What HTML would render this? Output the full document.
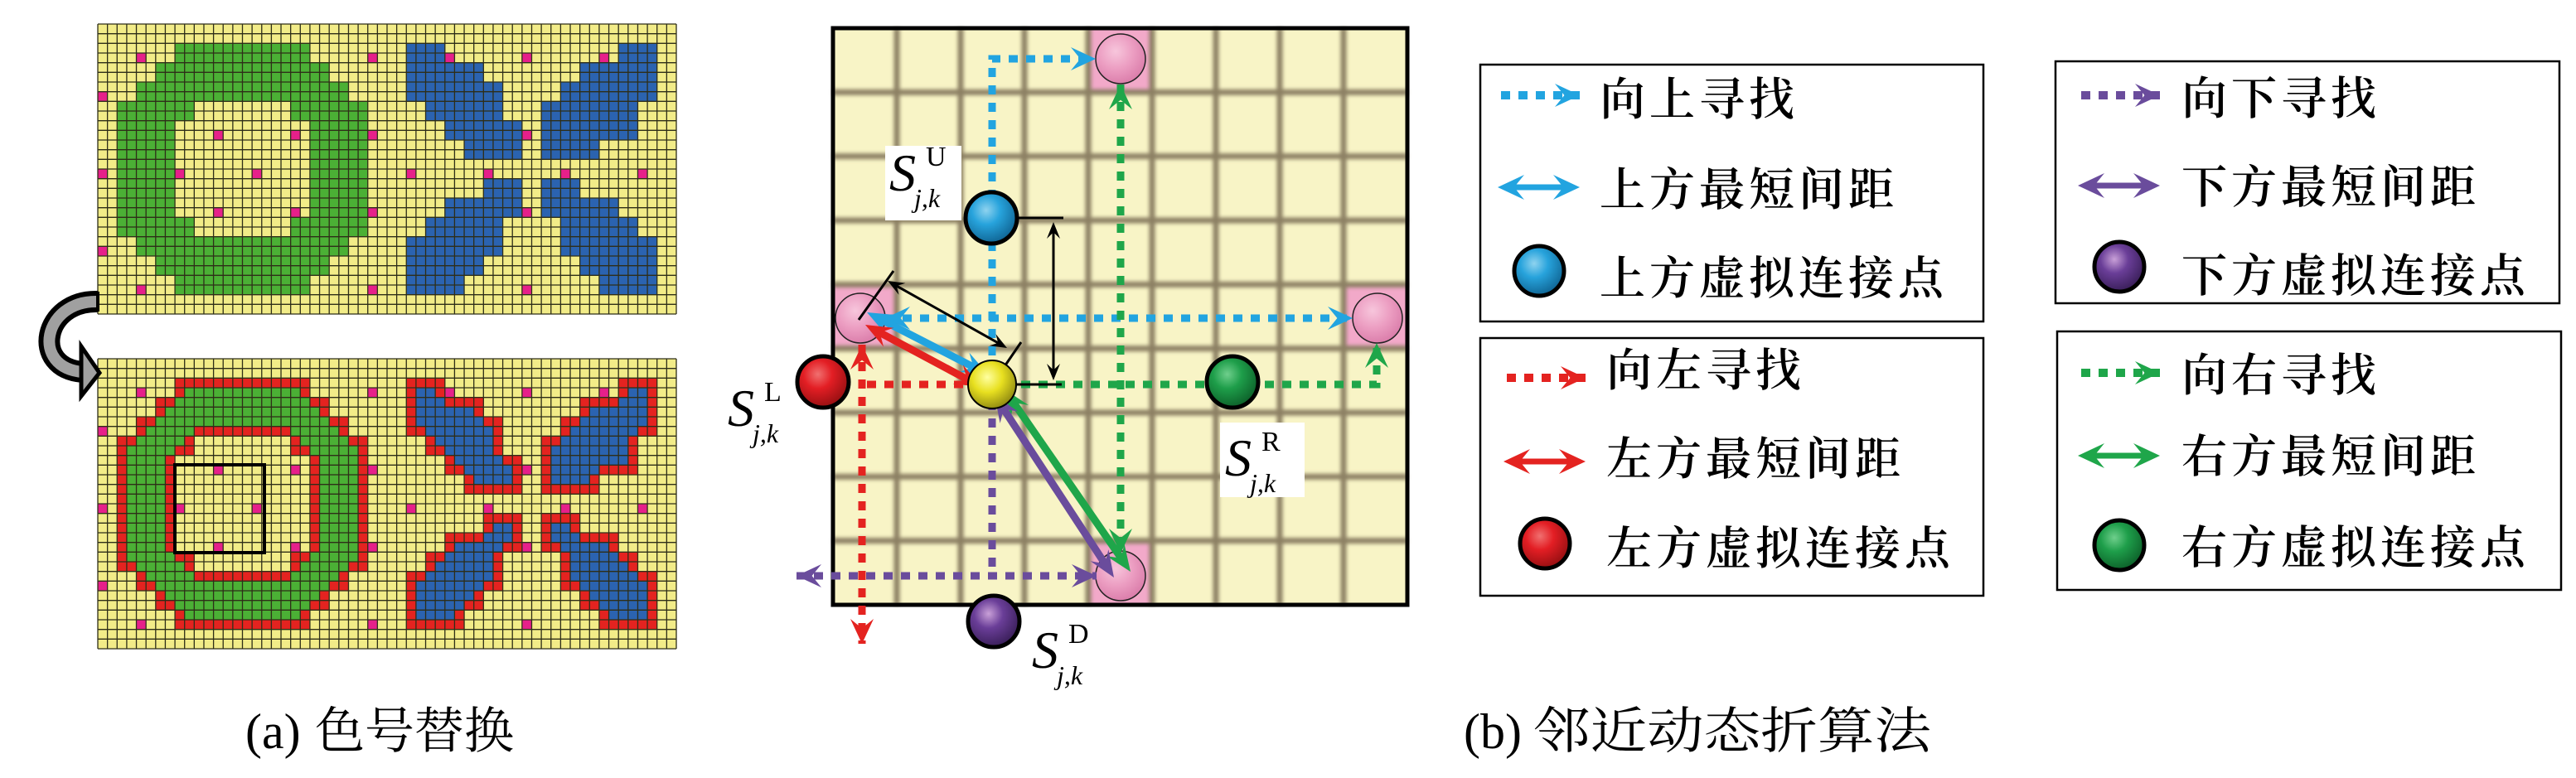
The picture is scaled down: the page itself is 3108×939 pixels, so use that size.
<!DOCTYPE html>
<html><head><meta charset="utf-8">
<style>
html,body{margin:0;padding:0;background:#fff;}
svg{display:block;}
.cj{font-family:"Liberation Serif","Noto Serif CJK SC",serif;font-size:55px;letter-spacing:5px;fill:#000;font-weight:600;}
.cap{font-family:"Liberation Serif","Noto Serif CJK SC",serif;font-size:60px;fill:#000;}
.si{font-family:"Liberation Serif",serif;font-style:italic;font-size:64px;}
.sup{font-family:"Liberation Serif",serif;font-size:34px;}
.sub{font-family:"Liberation Serif",serif;font-style:italic;font-size:32px;}
</style></head>
<body>
<svg id="s" width="3108" height="939" viewBox="0 0 3108 939" xmlns="http://www.w3.org/2000/svg">
<defs>
<radialGradient id="gb" cx="0.4" cy="0.35" r="0.7"><stop offset="0" stop-color="#8fd3ef"/><stop offset="0.4" stop-color="#27a3dc"/><stop offset="1" stop-color="#0d5e8c"/></radialGradient>
<radialGradient id="gr" cx="0.4" cy="0.35" r="0.7"><stop offset="0" stop-color="#f07070"/><stop offset="0.4" stop-color="#e31e24"/><stop offset="1" stop-color="#8e0e10"/></radialGradient>
<radialGradient id="gg" cx="0.4" cy="0.35" r="0.7"><stop offset="0" stop-color="#6fcf8c"/><stop offset="0.4" stop-color="#1e9e4a"/><stop offset="1" stop-color="#0b5a26"/></radialGradient>
<radialGradient id="gp" cx="0.4" cy="0.35" r="0.7"><stop offset="0" stop-color="#c9a0d8"/><stop offset="0.4" stop-color="#6a3e98"/><stop offset="1" stop-color="#341b52"/></radialGradient>
<radialGradient id="gy" cx="0.4" cy="0.35" r="0.7"><stop offset="0" stop-color="#ffffa0"/><stop offset="0.45" stop-color="#e8e020"/><stop offset="1" stop-color="#8a8410"/></radialGradient>
<radialGradient id="gk" cx="0.4" cy="0.35" r="0.7"><stop offset="0" stop-color="#f7c6dc"/><stop offset="0.5" stop-color="#ec9ec2"/><stop offset="1" stop-color="#d97aa8"/></radialGradient>
<filter id="bl" x="-5%" y="-5%" width="110%" height="110%"><feGaussianBlur stdDeviation="2.5"/></filter>
</defs>
<g id="A"></g>
<g id="B"></g>
<g id="L"></g>
<path d="M118,364 C52,362 36,444 100,449" fill="none" stroke="#000" stroke-width="26"/>
<path d="M118,364 C52,362 36,444 100,449" fill="none" stroke="#a0a0a0" stroke-width="14"/>
<polygon points="98,418 120,450 98,478" fill="#a0a0a0" stroke="#000" stroke-width="5" stroke-linejoin="miter"/>
<rect x="116" y="352" width="4" height="24" fill="#000"/>
<text class="cap" x="296" y="903">(a)</text>
<text class="cap" x="380" y="903" textLength="240" lengthAdjust="spacingAndGlyphs">色号替换</text>
<text class="cap" x="1766" y="903">(b)</text>
<text class="cap" x="1850" y="903" textLength="480" lengthAdjust="spacingAndGlyphs">邻近动态折算法</text>
<text class="cj" x="1930" y="139">向上寻找</text>
<text class="cj" x="1930" y="248">上方最短间距</text>
<text class="cj" x="1930" y="355">上方虚拟连接点</text>
<text class="cj" x="1938" y="466">向左寻找</text>
<text class="cj" x="1938" y="573">左方最短间距</text>
<text class="cj" x="1938" y="681">左方虚拟连接点</text>
<text class="cj" x="2632" y="138">向下寻找</text>
<text class="cj" x="2632" y="245">下方最短间距</text>
<text class="cj" x="2632" y="352">下方虚拟连接点</text>
<text class="cj" x="2632" y="472">向右寻找</text>
<text class="cj" x="2632" y="570">右方最短间距</text>
<text class="cj" x="2632" y="680">右方虚拟连接点</text>
</svg>
<script>
var NS="http://www.w3.org/2000/svg";
function el(p,t,a){var e=document.createElementNS(NS,t);for(var k in a)e.setAttribute(k,a[k]);p.appendChild(e);return e;}
var A=document.getElementById('A'),B=document.getElementById('B'),Lg=document.getElementById('L');
var green={2:[[8,21]],4:[[6,23]],6:[[4,25]],8:[[2,9],[20,27]],10:[[2,7],[22,27]],12:[[2,7],[22,27]],14:[[2,7],[22,27]],16:[[2,7],[22,27]],18:[[2,7],[22,27]],20:[[2,9],[20,27]],22:[[4,25]],24:[[6,23]],26:[[8,21]]};
var blue={2:[[32,35],[54,57]],4:[[32,39],[50,57]],6:[[32,41],[48,57]],8:[[34,41],[46,55]],10:[[36,43],[46,55]],12:[[38,43],[46,51]],16:[[40,43],[46,49]],18:[[36,43],[46,53]],20:[[34,41],[48,55]],22:[[32,41],[48,57]],24:[[32,39],[50,57]],26:[[32,37],[52,57]]};
var M=[];for(var r=0;r<30;r++){M.push([]);for(var c=0;c<60;c++)M[r].push(0);}
function fill(o,v){for(var k in o){var r0=+k;for(var rr=r0;rr<r0+2;rr++)o[k].forEach(function(g){for(var c=g[0];c<=g[1];c++)M[rr][c]=v;});}}
fill(green,1);fill(blue,2);
function drawGrid(y0,outline){
 var x0=118,cw=698/60,ch=350/30;
 var g=el(A,'g',{});
 el(g,'rect',{x:x0,y:y0,width:698,height:350,fill:'#f2ec88'});
 for(var r=0;r<30;r++)for(var c=0;c<60;c++){
  var v=M[r][c],col=null;
  if(v){col=v==1?'#4bb035':'#2b63b0';
   if(outline){var b=false;[[0,1],[0,-1],[1,0],[-1,0]].forEach(function(d){var rr=r+d[0],cc=c+d[1];if(rr<0||rr>=30||cc<0||cc>=60||M[rr][cc]!=v)b=true;});if(b)col='#e42320';}
  }else{
   if((r%8==3&&c%8==4)||(r%8==7&&c%8==0))col='#e6208a';
  }
  if(col)el(g,'rect',{x:(x0+c*cw).toFixed(2),y:(y0+r*ch).toFixed(2),width:cw+0.3,height:ch+0.3,fill:col});
 }
 var d='';
 for(var c=0;c<=60;c++){var x=(x0+c*cw).toFixed(2);d+='M'+x+','+y0+'V'+(y0+350);}
 for(var r=0;r<=30;r++){var y=(y0+r*ch).toFixed(2);d+='M'+x0+','+y+'H'+(x0+698);}
 el(g,'path',{d:d,stroke:'#2e2e18',"stroke-width":1.3,fill:'none'});
}
drawGrid(29,false);
drawGrid(433,true);
el(A,'rect',{x:211,y:561,width:108,height:106,fill:'none',stroke:'#000','stroke-width':4});
function head(p,x,y,ang,color,L,W){
 L=L||30;W=W||28;var c=Math.cos(ang),s=Math.sin(ang);
 var pts=[[0,0],[-L,-W/2],[-L*0.62,0],[-L,W/2]].map(function(q){return (x+q[0]*c-q[1]*s).toFixed(1)+','+(y+q[0]*s+q[1]*c).toFixed(1);}).join(' ');
 el(p,'polygon',{points:pts,fill:color});
}
function dotted(p,pts,color,hs,he,w){
 w=w||9;var d='M'+pts.map(function(q){return q.join(',');}).join('L');
 var a=pts[0],b=pts[1],y=pts[pts.length-2],z=pts[pts.length-1];
 el(p,'path',{d:d,fill:'none',stroke:color,'stroke-width':w,'stroke-dasharray':'11 10'});
 if(he)head(p,z[0],z[1],Math.atan2(z[1]-y[1],z[0]-y[0]),color);
 if(hs)head(p,a[0],a[1],Math.atan2(a[1]-b[1],a[0]-b[0]),color);
}
function dbl(p,x1,y1,x2,y2,color,w,L,W){
 var ang=Math.atan2(y2-y1,x2-x1),c=Math.cos(ang),s=Math.sin(ang),k=(L||30)*0.6;
 el(p,'line',{x1:x1+c*k,y1:y1+s*k,x2:x2-c*k,y2:y2-s*k,stroke:color,'stroke-width':w});
 head(p,x2,y2,ang,color,L,W);head(p,x1,y1,ang+Math.PI,color,L,W);
}
function ball(p,x,y,r,g,sw){el(p,'circle',{cx:x,cy:y,r:r,fill:'url(#'+g+')',stroke:'#000','stroke-width':sw||5});}
var fx=1005,fy=34,fw=693,fh=696,cw=fw/9,ch=fh/9;
el(B,'rect',{x:fx,y:fy,width:fw,height:fh,fill:'#f8f4c6'});
[[4,0],[0,4],[8,4],[4,8]].forEach(function(q){el(B,'rect',{x:fx+q[0]*cw,y:fy+q[1]*ch,width:cw,height:ch,fill:'#f2a9c9'});});
var gd='';for(var k=1;k<9;k++){gd+='M'+(fx+k*cw)+','+fy+'V'+(fy+fh)+'M'+fx+','+(fy+k*ch)+'H'+(fx+fw);}
el(B,'path',{d:gd,stroke:'#8c8064','stroke-width':7,fill:'none',filter:'url(#bl)'});
el(B,'rect',{x:fx,y:fy,width:fw,height:fh,fill:'none',stroke:'#000','stroke-width':5});
[[1352,71],[1038,384],[1662,384],[1352,695]].forEach(function(q){el(B,'circle',{cx:q[0],cy:q[1],r:30,fill:'url(#gk)',stroke:'#222','stroke-width':1.5});});
dotted(B,[[1197,450],[1197,71],[1322,71]],'#22a4e0',false,true);
dotted(B,[[1068,384],[1632,384]],'#22a4e0',true,true);
dotted(B,[[1352,102],[1352,668]],'#1fa64a',true,true);
dotted(B,[[1232,464],[1661,464],[1661,414]],'#1fa64a',false,true);
dotted(B,[[1046,464],[1170,464]],'#e42320',false,false);
dotted(B,[[1040,416],[1040,777]],'#e42320',true,true);
dotted(B,[[1197,484],[1197,695]],'#6a4c9c',false,false);
dotted(B,[[961,695],[1323,695]],'#6a4c9c',true,true);
dbl(B,1046,377,1192,452,'#22a4e0',9,32,26);
dbl(B,1044,392,1184,467,'#e42320',9,32,26);
dbl(B,1212,470,1364,690,'#1fa64a',9,32,26);
dbl(B,1200,477,1344,697,'#6a4c9c',9,32,26);
el(B,'line',{x1:1196,y1:263,x2:1283,y2:263,stroke:'#000','stroke-width':3});
el(B,'line',{x1:1197,y1:464,x2:1281,y2:464,stroke:'#000','stroke-width':3});
dbl(B,1271,268,1271,459,'#000',3,20,16);
el(B,'line',{x1:1036,y1:386,x2:1078,y2:327,stroke:'#000','stroke-width':3});
el(B,'line',{x1:1197,y1:464,x2:1232,y2:413,stroke:'#000','stroke-width':3});
dbl(B,1071,339,1215,420,'#000',3,20,16);
ball(B,1197,464,29,'gy',2);
ball(B,1196,263,31,'gb',5);
ball(B,993,461,31,'gr',5);
ball(B,1487,461,31,'gg',5);
ball(B,1199,750,31,'gp',5);
el(B,'rect',{x:1068,y:176,width:92,height:90,fill:'#fff'});
el(B,'rect',{x:1472,y:510,width:102,height:90,fill:'#fff'});
function lab(x,y,sup){
 var t=el(B,'text',{x:x,y:y,'class':'si'});t.textContent='S';
 var u=el(B,'text',{x:x+44,y:y-30,'class':'sup'});u.textContent=sup;
 var j=el(B,'text',{x:x+30,y:y+20,'class':'sub'});j.textContent='j,k';
}
lab(1073,230,'U');
lab(878,514,'L');
lab(1478,574,'R');
lab(1245,806,'D');
[[1786,78,607,310],[1786,408,607,311],[2480,74,608,292],[2482,400,608,312]].forEach(function(b){el(Lg,'rect',{x:b[0],y:b[1],width:b[2],height:b[3],fill:'none',stroke:'#000','stroke-width':2.5});});
function legend(x,ys,color,grad){
 dotted(Lg,[[x,ys[0]],[x+95,ys[0]]],color,false,true,10);
 dbl(Lg,x-4,ys[1],x+95,ys[1],color,7,32,30);
 ball(Lg,x+46,ys[2],30,grad,5);
}
legend(1811,[115,226,327],'#22a4e0','gb');
legend(1818,[456,557,656],'#e42320','gr');
legend(2511,[115,224,322],'#6a4c9c','gp');
legend(2511,[450,550,658],'#1fa64a','gg');
</script>
</body></html>
